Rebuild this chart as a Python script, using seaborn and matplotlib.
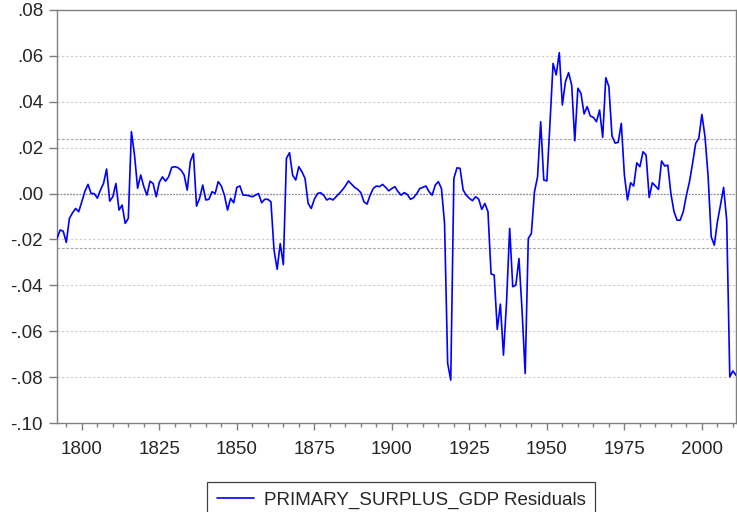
import numpy as np
import pandas as pd
import seaborn as sns
import matplotlib.pyplot as plt
from matplotlib.ticker import FuncFormatter, MultipleLocator

# residuals of PRIMARY_SURPLUS_GDP, one value per year 1792-2011
years = list(range(1792, 2012))
resid = [
    -0.0196, -0.0159, -0.0164, -0.0213, -0.0108, -0.0084, -0.0065, -0.0079,          # 1792-1799
    -0.0036, 0.0010, 0.0040, 0.0000, 0.0000, -0.0020, 0.0015, 0.0044, 0.0107, -0.0033,  # 1800s
    -0.0014, 0.0044, -0.0072, -0.0050, -0.0130, -0.0108, 0.0270, 0.0168, 0.0023, 0.0081,  # 1810s
    0.0030, -0.0007, 0.0054, 0.0044, -0.0014, 0.0049, 0.0073, 0.0054, 0.0073, 0.0114,    # 1820s
    0.0117, 0.0113, 0.0102, 0.0081, 0.0015, 0.0139, 0.0175, -0.0055, -0.0020, 0.0037,    # 1830s
    -0.0028, -0.0025, 0.0008, 0.0000, 0.0052, 0.0033, -0.0007, -0.0072, -0.0021, -0.0040,  # 1840s
    0.0027, 0.0033, -0.0007, -0.0007, -0.0010, -0.0014, -0.0007, 0.0000, -0.0040, -0.0025,  # 1850s
    -0.0025, -0.0036, -0.0246, -0.0330, -0.0218, -0.0310, 0.0154, 0.0178, 0.0080, 0.0059,  # 1860s
    0.0117, 0.0095, 0.0066, -0.0043, -0.0065, -0.0025, 0.0000, 0.0004, -0.0007, -0.0028,  # 1870s
    -0.0021, -0.0028, -0.0014, 0.0000, 0.0015, 0.0033, 0.0055, 0.0041, 0.0027, 0.0018,   # 1880s
    0.0004, -0.0036, -0.0046, -0.0007, 0.0022, 0.0033, 0.0030, 0.0040, 0.0027, 0.0012,   # 1890s
    0.0022, 0.0030, 0.0008, -0.0007, 0.0004, -0.0004, -0.0025, -0.0018, -0.0001, 0.0022,  # 1900s
    0.0027, 0.0033, 0.0008, -0.0007, 0.0037, 0.0052, 0.0022, -0.0130, -0.0740, -0.0813,  # 1910s
    0.0066, 0.0112, 0.0110, 0.0015, -0.0007, -0.0021, -0.0031, -0.0014, -0.0024, -0.0069,  # 1920s
    -0.0043, -0.0079, -0.0350, -0.0355, -0.0592, -0.0482, -0.0704, -0.0470, -0.0152, -0.0406,  # 1930s
    -0.0399, -0.0283, -0.0510, -0.0784, -0.0196, -0.0174, 0.0008, 0.0073, 0.0313, 0.0059,  # 1940s
    0.0055, 0.0306, 0.0567, 0.0517, 0.0614, 0.0386, 0.0488, 0.0527, 0.0473, 0.0230,     # 1950s
    0.0459, 0.0437, 0.0347, 0.0379, 0.0338, 0.0332, 0.0313, 0.0364, 0.0245, 0.0505,     # 1960s
    0.0466, 0.0251, 0.0220, 0.0223, 0.0306, 0.0081, -0.0028, 0.0047, 0.0033, 0.0134,    # 1970s
    0.0117, 0.0182, 0.0168, -0.0017, 0.0047, 0.0033, 0.0018, 0.0142, 0.0120, 0.0124,    # 1980s
    0.0000, -0.0079, -0.0116, -0.0116, -0.0079, -0.0007, 0.0052, 0.0132, 0.0219, 0.0241,  # 1990s
    0.0345, 0.0248, 0.0076, -0.0188, -0.0225, -0.0123, -0.0050, 0.0027, -0.0116, -0.0799,  # 2000s
    -0.0773, -0.0792,                                                                 # 2010-2011
]
resid_se = 0.0238          # +/- 1 S.E. band lines
y_ticks = [0.08, 0.06, 0.04, 0.02, 0.00, -0.02, -0.04, -0.06, -0.08, -0.10]
x_ticks = [1800, 1825, 1850, 1875, 1900, 1925, 1950, 1975, 2000]
label = "PRIMARY_SURPLUS_GDP Residuals"

df = pd.DataFrame({"year": years, "resid": resid})

sns.set_style("white")
plt.rcParams['font.family'] = ['Liberation Sans', 'DejaVu Sans']
plt.rcParams['font.size'] = 13.5

fig = plt.figure(figsize=(7.37, 5.12), dpi=100)
ax = fig.add_axes([57 / 737, 89 / 512, 679 / 737, 413 / 512])

# gridlines like EViews: light dotted at ticks, darker at zero and +/- S.E.
for v in y_ticks[1:-1]:
    if abs(v) < 1e-9:
        continue
    ax.axhline(v, color="#cccccc", lw=0.8, ls=(0, (2, 2)), zorder=1)
ax.axhline(0, color="#8c8c8c", lw=0.9, ls=(0, (1.5, 1)), zorder=1)
for v in (resid_se, -resid_se):
    ax.axhline(v, color="#a6a6a6", lw=0.8, ls=(0, (2.5, 1.5)), zorder=1)

sns.lineplot(data=df, x="year", y="resid", color="#0000ff", lw=1.2, ax=ax,
             label=label, legend=False, zorder=3)

ax.set_xlim(1792, 2011)
ax.set_ylim(-0.10, 0.08)
ax.set_yticks(y_ticks)
ax.yaxis.set_major_formatter(FuncFormatter(lambda v, p: f"{v:.2f}".replace("0.", ".", 1)))
ax.set_xticks(x_ticks)
ax.xaxis.set_minor_locator(MultipleLocator(5))
ax.set_xlabel("")
ax.set_ylabel("")

for s in ax.spines.values():
    s.set_color("#7f7f7f")
    s.set_linewidth(1.0)

ax.tick_params(axis="y", which="major", direction="out", length=6, width=1,
               color="#7f7f7f", pad=4, left=True, labelsize=13.5)
ax.tick_params(axis="x", which="major", direction="out", length=5, width=1,
               color="#7f7f7f", pad=8, bottom=True, labelsize=13.5)
ax.tick_params(axis="x", which="minor", direction="out", length=3, width=1,
               color="#7f7f7f", bottom=True)

handles, labels = ax.get_legend_handles_labels()
leg = fig.legend(handles, labels, loc="upper center", bbox_to_anchor=(401 / 737, 30 / 512),
                 borderaxespad=0, frameon=True, fancybox=False, edgecolor="#404040",
                 framealpha=1, fontsize=13.5, handlelength=2.0, borderpad=0.5,
                 handletextpad=0.5)
leg.get_frame().set_linewidth(0.9)

fig.savefig("out.png", dpi=100)
